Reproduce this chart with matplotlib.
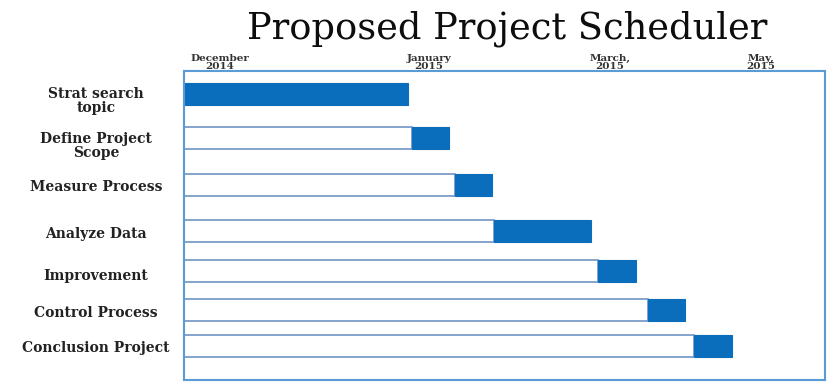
import matplotlib
matplotlib.use("Agg")
import matplotlib.pyplot as plt

# tasks, top to bottom
tasks = ["Strat search\ntopic", "Define Project\nScope", "Measure Process", "Analyze Data",
         "Improvement", "Control Process", "Conclusion Project"]
# timeline in days from start of chart
wait_days = [0, 61.5, 73.1, 83.7, 111.9, 125.3, 137.8]   # white (not started yet)
work_days = [60.5, 10.1, 10.1, 26.4, 10.3, 10.1, 10.3]  # blue (task duration)
tick_days = [9.7, 66.2, 115.1, 155.9]
tick_labels = ["December\n2014", "January\n2015", "March,\n2015", "May,\n2015"]

# row layout (pixel-like units from top of frame)
row_y = [23, 67, 114, 160, 199.5, 239, 274.5]
label_y = [30, 75, 116, 163, 205, 242, 277]

blue = "#0a6ebd"
frame_col = "#5b9bd5"
bar_edge = "#6f93c4"

fig = plt.figure(figsize=(8.27, 3.82), dpi=100)
ax = fig.add_axes([184 / 827, 2 / 382, 641 / 827, 309 / 382])
ax.set_xlim(0, 173.2)
ax.set_ylim(309, 0)

for i in range(len(tasks)):
    if wait_days[i] > 0:
        ax.barh(row_y[i], wait_days[i], height=22, left=0, color="white",
                edgecolor=bar_edge, linewidth=1.2)
    ax.barh(row_y[i], work_days[i], height=22, left=wait_days[i], color=blue,
            edgecolor=blue, linewidth=0.8)

for s in ax.spines.values():
    s.set_color(frame_col)
    s.set_linewidth(1.5)
ax.set_yticks([])
ax.xaxis.tick_top()
ax.set_xticks(tick_days)
ax.set_xticklabels(tick_labels, fontsize=7.5, fontweight="bold", family="DejaVu Serif",
                   linespacing=0.85)
ax.tick_params(axis="x", length=0, pad=0, colors="#333333")

for i, t in enumerate(tasks):
    ax.text(-88 / 641 * 173.2, label_y[i], t, ha="center", va="center", fontsize=10,
            fontweight="bold", family="DejaVu Serif", linespacing=1.0, color="#222222")

fig.text(0.613, 0.925, "Proposed Project Scheduler", ha="center", va="center",
         fontsize=26.5, family="DejaVu Serif", color="#0d0d0d")

fig.savefig("out.png", dpi=100)
